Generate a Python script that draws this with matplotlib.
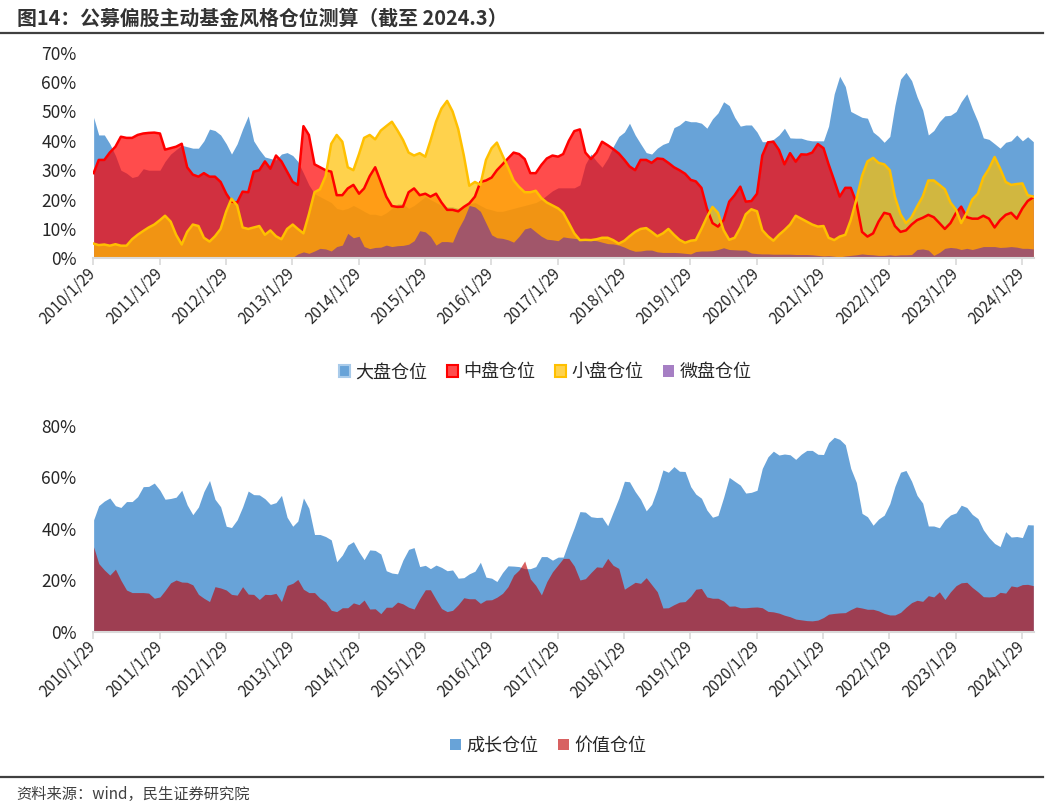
import numpy as np
import pandas as pd
import matplotlib
matplotlib.use("Agg")
import matplotlib.pyplot as plt
from matplotlib.patches import Patch
from matplotlib.lines import Line2D
from matplotlib.ticker import FuncFormatter, MultipleLocator
from datetime import datetime

plt.rcParams["font.family"] = ["Noto Sans CJK SC", "DejaVu Sans"]

nan = np.nan
# month-end dates, 2010/1 .. 2024/3
dates = pd.date_range("2010-01-29", "2024-03-31", freq="ME")

# ---- top chart: style positions (%) ----
large_cap = [
    48, 42, 42, 39, 35, 30, 29, 27.5, 28, 30.5, 30, 30,            # 2010
    30, 33, 35.5, 37, 38.5, 38, 37.5, 37.5, 40, 44, 43.5, 42,       # 2011
    39, 35.5, 39, 44, 48.5, 40, 37, 34.5, 34, 33.5, 35.5, 36,       # 2012
    35, 33, 29, 25, 22, 21, 20, 19, 17, 16.5, 17, 18,               # 2013
    17, 16, 15, 15, 14.5, 15.5, 17, 18.5, 18.5, 17, 18, 19.5,       # 2014
    21, 20, 19, 18, 17.5, 17.5, 17, 17.5, 18.5, 19, 18, 17,         # 2015
    16.5, 16, 16, 16.5, 17, 17.5, 18, 18.5, 19, 20, 21.5, 23,       # 2016
    24, 24, 24, 24, 25, 32, 35.5, 33, 31, 34, 38, 41.5,             # 2017
    43, 46, 42, 39, 36, 35.5, 37.5, 38.8, 39.5, 44.5, 45.4, 47,     # 2018
    46.5, 46.5, 46, 44.3, 47.5, 49.5, 53.3, 52, 48, 45, 45.4, 45.4, # 2019
    43, 39.7, 39.7, 40.5, 42, 44.3, 41, 40.9, 40.9, 40.3, 40, 40,   # 2020
    40, 45, 56, 62, 58.5, 50, 49, 48, 47.7, 43, 41.5, 39.5,         # 2021
    41.5, 52, 61, 63.3, 60.5, 55, 50.5, 42, 43.5, 46.5, 48.5, 48.7, # 2022
    50, 53.3, 56, 51, 46.5, 41, 40.5, 39, 37.5, 39.5, 40, 42,       # 2023
    40, 41.4, 39.7,                                                 # 2024
]
mid_cap = [
    29, 33.5, 33.5, 36, 38, 41.4, 41, 41, 42, 42.5, 42.7, 42.8,
    42.5, 37, 37.5, 38, 39, 31, 28.5, 27.8, 29, 27.8, 27.8, 26,
    22, 19.3, 19, 22.7, 22.5, 29.5, 30, 33, 30.5, 35, 33, 29.5,
    26, 25, 45, 42, 32, 31, 30, 29.5, 21.5, 21.5, 23.8, 25,
    22, 23.8, 28, 31, 26, 21, 17.8, 17.5, 17.6, 22.5, 23.8, 21.5,
    22, 21, 22, 19, 16.5, 16.5, 16, 17.5, 18.7, 21, 26, 26.5,
    27.5, 30, 32, 34, 36, 35.5, 33.8, 29, 29, 31.8, 34, 35,
    34.6, 35.5, 40, 43.3, 43.9, 36, 33.8, 36, 39.7, 38.5, 37.2, 35.7,
    33.5, 31.3, 30, 33.5, 33.5, 32.5, 34, 33.8, 32.5, 31, 30, 28.8,
    26.7, 26.2, 24, 17, 12, 10.8, 13, 19.3, 21.5, 24.4, 19.3, 19.5,
    22, 35, 39.5, 39.7, 36.9, 32, 35.8, 32.9, 35.4, 35.3, 36, 38.9,
    37.5, 32, 26.5, 21, 24, 24, 19, 9, 7.4, 8.5, 12.5, 15.5,
    15, 11, 9, 9.5, 11.5, 13, 13.8, 14.8, 14, 12, 10, 12,
    15.5, 17.6, 14, 13.5, 13.5, 14.5, 13.5, 10.5, 13, 14.8, 15.5, 13.5,
    17, 19.5, 20.8,
]
small_cap = [
    5, 4.5, 4.7, 4.3, 4.8, 4.3, 4.3, 6.5, 8, 9.3, 10.5, 11.5,
    13, 14.5, 12.5, 8, 4.7, 9, 11.5, 11, 7, 5.7, 7.5, 10,
    16, 20.3, 18, 10.5, 10, 10.5, 11, 8, 9.5, 7.5, 6.5, 10,
    11.5, 10, 8.5, 15, 22.5, 23.5, 28, 39, 42, 39.7, 31, 30,
    35.5, 41, 42, 40.5, 43.5, 45, 46.5, 43.5, 40.3, 36, 35, 35.8,
    34.6, 40, 46.5, 51, 53.6, 50, 44, 35, 24.7, 26, 25, 33.5,
    37.5, 39.4, 35, 31, 26.5, 24.3, 22.5, 22.5, 23, 20.5, 19, 18,
    17, 15.5, 12, 8.5, 6.2, 6.3, 6.2, 6.5, 7, 7, 6.2, 5,
    6, 7.5, 9, 10, 10.3, 9, 7.5, 8.5, 10, 8, 6.3, 5.3,
    6, 6.2, 10, 14, 17.5, 15.5, 9.6, 6.3, 7, 10.5, 15, 16.7,
    16, 9.6, 7.5, 6, 8, 9.6, 11.5, 14.5, 13.5, 12.5, 11.5, 10.8,
    11, 7, 6.2, 7.4, 8, 13, 20, 28, 33, 34.2, 32.5, 32,
    30, 21, 15, 12, 14, 17.6, 21, 26.5, 26.5, 25, 23.5, 19,
    16.5, 12, 15.5, 20, 22, 27.5, 30.5, 34.5, 30.6, 26, 25, 25.3,
    25.5, 21.5, 21,
]
micro_cap = [
    nan, nan, nan, nan, nan, nan, nan, nan, nan, nan, nan, nan,
    nan, nan, nan, nan, nan, nan, nan, nan, nan, nan, nan, nan,
    nan, nan, nan, nan, nan, nan, nan, nan, nan, nan, nan, nan,
    0.3, 1.5, 2.2, 1.7, 2.5, 3.4, 3.2, 2.5, 4, 4.5, 8.5, 7,
    7.5, 4, 3.3, 3.7, 3.8, 4.5, 4, 4.3, 4.4, 4.8, 6, 9.4,
    9, 7.5, 4.5, 5.7, 5.7, 5.5, 10, 13.5, 18, 17.5, 16, 12,
    8, 7, 6.8, 6.3, 5.5, 7.5, 10, 10.5, 9, 7.5, 6.5, 6.3,
    6, 7.3, 7, 6.8, 6.5, 6.3, 6.2, 6, 5.5, 5, 4.9, 4.5,
    3.8, 3, 2.4, 2.5, 2.8, 2.8, 2.2, 2, 2, 2, 1.9, 1.7,
    1.5, 2.3, 2.5, 2.5, 2.6, 3, 3.6, 3, 2.9, 2.8, 2.8, 1.8,
    1.6, 1.5, 1.5, 1.4, 1.4, 1.4, 1.4, 1.3, 1.3, 1.3, 1.2, 1,
    0.8, 0.9, 0.7, 0.5, 0.8, 1, 1.2, 1.5, 1.3, 1.2, 1, 1,
    1.2, 1, 1.2, 1.2, 1.3, 3, 3.2, 2.8, 1, 2, 3.4, 3.7,
    3.5, 3, 3.4, 3, 3.5, 4, 4, 4, 3.7, 3.8, 4, 3.8,
    3.4, 3.4, 3.2,
]

# ---- bottom chart: growth / value (%) ----
growth = [
    43.5, 49, 50.8, 52, 49, 48.3, 50.6, 50.6, 52.5, 56.4, 56.5, 57.8,
    55, 51.5, 51.8, 52.3, 55, 49.3, 45.5, 48.5, 54.5, 58.8, 51.5, 48.6,
    41, 40.5, 43.5, 48.5, 54.7, 53.3, 53.2, 51.7, 49.5, 50.2, 53, 44.5,
    41, 43, 52, 48, 37.8, 37.8, 37, 35.7, 27.2, 29.8, 33.7, 35,
    31, 28, 31.8, 31.6, 30.2, 23.7, 22.8, 22.5, 27.9, 32, 32.7, 25.3,
    25.8, 24.5, 25.9, 25, 23.7, 24, 20.8, 21, 22.5, 23.5, 27, 21.2,
    20.8, 19.5, 23, 25.6, 25.5, 25.3, 24.5, 24.5, 25.3, 29.2, 29.2, 27.8,
    29, 29, 35, 40.5, 46.7, 46.5, 44.7, 44.4, 44.5, 41.2, 46.5, 51.9,
    58.5, 58.3, 54.5, 51.5, 47, 49.5, 55.5, 62.9, 62, 64.2, 62.4, 62.3,
    56.4, 53.5, 51.9, 47.3, 44.5, 45.2, 52.2, 60, 58.5, 57, 53.9, 54.2,
    55, 63.5, 68, 70.2, 68.7, 69.1, 68.8, 67, 69, 70.5, 70.5, 69,
    68.9, 73.5, 75.6, 74.8, 72.7, 63.5, 58, 46, 44.7, 41.4, 43.8, 45.3,
    49.8, 56.5, 62, 62.7, 58.5, 53, 50, 41.1, 41.1, 40.4, 43.5, 45.4,
    46.2, 49.2, 48.3, 45.6, 44, 39.6, 36.6, 34.3, 33.1, 38.9, 36.8, 37,
    36.6, 41.6, 41.5,
]
value = [
    33, 26.5, 24, 22, 24.3, 20, 16.2, 15.2, 15.2, 15.2, 15, 13,
    13.5, 16, 19, 20.1, 19.3, 19.2, 18.2, 14.5, 13, 11.7, 17.5, 17,
    16.2, 14.5, 14.2, 17.5, 14.6, 14.5, 12.5, 14.5, 14.4, 14.9, 11.7, 18,
    18.8, 20.3, 16.5, 15.2, 15.2, 13, 11.5, 8.3, 7.8, 9.3, 9.3, 11.2,
    10.5, 12.3, 8.8, 8.9, 7, 9.5, 9.5, 11.5, 10.8, 9.5, 8.8, 12.8,
    16.3, 16.3, 12.5, 9, 7.8, 8.3, 10.5, 13.2, 12.8, 12.8, 11, 12.3,
    12.4, 13.4, 14.9, 17.5, 22, 24, 27.5, 20.5, 18, 14.3, 19.5, 23.3,
    26, 28.5, 28.5, 25.5, 20.1, 20.6, 23, 25.2, 25, 28.5, 25.8, 24.6,
    16.5, 17.8, 19.2, 18.8, 21, 18.3, 15.5, 9.2, 9.3, 10.5, 11.5, 11.7,
    13.8, 16.5, 16.8, 13.5, 13, 13, 11.9, 9.9, 10, 9.3, 9.3, 9.5,
    9.6, 9.3, 7.9, 7.7, 7.2, 6.4, 5.8, 4.9, 4.6, 4.3, 4.2, 4.5,
    5.5, 6.8, 7.1, 7.3, 7.4, 8.6, 9.6, 9.2, 8.7, 8.7, 8.1, 7.1,
    6.5, 6.5, 7.5, 9.5, 11.3, 12.2, 11.8, 14, 13.5, 15.5, 12.5, 15.5,
    17.9, 19, 19.2, 17.2, 15.5, 13.6, 13.5, 13.7, 15.3, 15, 17.8, 17.4,
    18.3, 18.4, 17.9,
]

tick_years = list(range(2010, 2025))
tick_labels = [f"{y}/1/29" for y in tick_years]
tick_dates = [datetime(y, 1, 29) for y in tick_years]

BLUE = "#5B9BD5"
RED = "#FF0000"
YELLOW = "#FFC000"
PURPLE = "#7030A0"
VALUE_RED = "#C00000"

fig = plt.figure(figsize=(10.48, 8.06), dpi=100)


def style_axis(ax, ymax, step):
    ax.set_xlim(datetime(2010, 1, 29), dates[-1] + pd.Timedelta(days=3))
    ax.set_ylim(0, ymax)
    ax.yaxis.set_major_locator(MultipleLocator(step))
    ax.yaxis.set_major_formatter(FuncFormatter(lambda v, p: f"{v:.0f}%"))
    for s in ["top", "right", "left"]:
        ax.spines[s].set_visible(False)
    ax.spines["bottom"].set_color("#D9D9D9")
    ax.spines["bottom"].set_linewidth(1.5)
    ax.set_xticks(tick_dates)
    ax.set_xticklabels(tick_labels, rotation=45, ha="right", va="center",
                       rotation_mode="anchor", fontsize=11, color="#262626")
    ax.tick_params(axis="x", length=5, width=1.2, color="#D9D9D9", pad=4)
    ax.tick_params(axis="y", length=0, pad=12, labelsize=12.5, labelcolor="#262626")
    ax.set_facecolor("none")


# top chart
ax1 = fig.add_axes([0.089, 0.6795, 0.8975, 0.2551])
ax1.fill_between(dates, 0, large_cap, color=BLUE, alpha=0.92, lw=0)
ax1.fill_between(dates, 0, mid_cap, color=RED, alpha=0.7, lw=0)
ax1.plot(dates, mid_cap, color=RED, lw=1.8)
ax1.fill_between(dates, 0, small_cap, color=YELLOW, alpha=0.7, lw=0)
ax1.plot(dates, small_cap, color=YELLOW, lw=1.8)
ax1.fill_between(dates, 0, micro_cap, color=PURPLE, alpha=0.62, lw=0)
style_axis(ax1, 70, 10)

h1 = [
    Patch(facecolor=(0.357, 0.608, 0.835, 0.92), edgecolor="#A9CBEA", lw=1.5),
    Patch(facecolor=(1, 0, 0, 0.7), edgecolor=RED, lw=1.5),
    Patch(facecolor=(1, 0.753, 0, 0.7), edgecolor=YELLOW, lw=1.5),
    Patch(facecolor=(0.439, 0.188, 0.627, 0.62), edgecolor="none"),
]
fig.legend(h1, ["大盘仓位", "中盘仓位", "小盘仓位", "微盘仓位"], loc="center",
           bbox_to_anchor=(0.52, 0.538), ncol=4, frameon=False, fontsize=13,
           handlelength=0.6, handleheight=0.6, handletextpad=0.3,
           columnspacing=1.1, labelcolor="#262626")

# bottom chart
ax2 = fig.add_axes([0.089, 0.2163, 0.8975, 0.2552])
ax2.fill_between(dates, 0, growth, color=BLUE, alpha=0.92, lw=0)
ax2.fill_between(dates, 0, value, color=VALUE_RED, alpha=0.62, lw=0)
style_axis(ax2, 80, 20)

h2 = [
    Patch(facecolor=(0.357, 0.608, 0.835, 0.92), edgecolor="none"),
    Patch(facecolor=(0.753, 0, 0, 0.62), edgecolor="none"),
]
fig.legend(h2, ["成长仓位", "价值仓位"], loc="center",
           bbox_to_anchor=(0.523, 0.0744), ncol=2, frameon=False, fontsize=13,
           handlelength=0.6, handleheight=0.6, handletextpad=0.3,
           columnspacing=1.1, labelcolor="#262626")

# title, rules and source
fig.text(0.016, 0.9777, "图14：公募偏股主动基金风格仓位测算（截至 2024.3）",
         fontsize=14.3, fontweight="bold", color="#333333", va="center", ha="left")
fig.add_artist(Line2D([0.0, 0.995], [0.959, 0.959], transform=fig.transFigure,
                      color="#404040", lw=1.6))
fig.add_artist(Line2D([0.0, 0.995], [0.036, 0.036], transform=fig.transFigure,
                      color="#404040", lw=1.6))
fig.text(0.0153, 0.0149, "资料来源：wind，民生证券研究院", fontsize=11,
         color="#404040", va="center", ha="left")

fig.savefig("out.png", dpi=100)
